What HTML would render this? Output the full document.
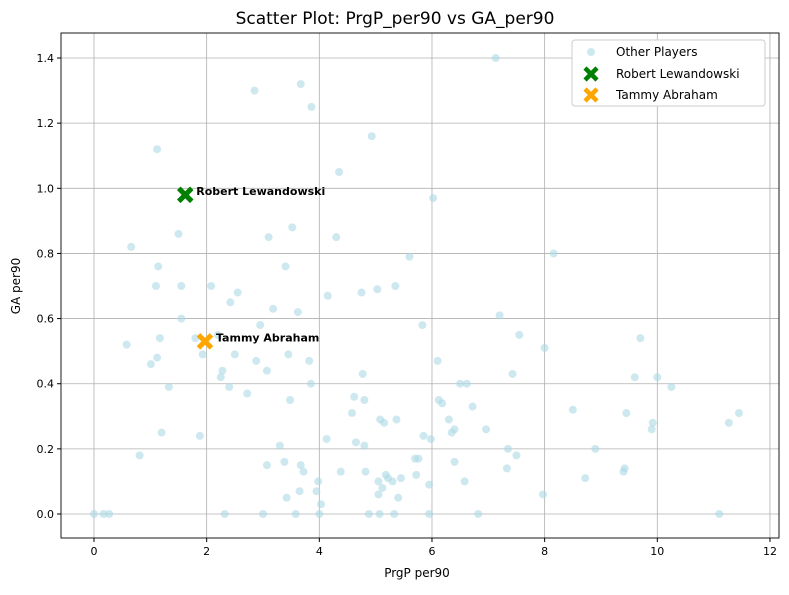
<!DOCTYPE html>
<html><head><meta charset="utf-8"><style>
body{margin:0;background:#fff;font-family:"Liberation Sans","DejaVu Sans",sans-serif}
svg text{font-family:"DejaVu Sans","Liberation Sans",sans-serif}
</style></head><body>
<svg id="chart" width="789" height="590">
<text x="395" y="24" text-anchor="middle" font-size="17">Scatter Plot: PrgP_per90 vs GA_per90</text>
<g id="grid"></g><g id="pts"></g><g id="axes"></g>
<text x="417" y="577" text-anchor="middle" font-size="12">PrgP per90</text>
<text transform="translate(20,286) rotate(-90)" text-anchor="middle" font-size="12">GA per90</text>
<g>
<rect x="572" y="40" width="193" height="66" fill="#fff" stroke="#ccc" rx="3"/>
<circle cx="591" cy="52" r="4" fill="#add8e6" opacity="0.6"/>
<text x="616" y="56" font-size="12">Other Players</text>
<path d="M585,68 L597,80 M597,68 L585,80" stroke="green" stroke-width="4.5"/>
<text x="616" y="78" font-size="12">Robert Lewandowski</text>
<path d="M585,89 L597,101 M597,89 L585,101" stroke="orange" stroke-width="4.5"/>
<text x="616" y="99" font-size="12">Tammy Abraham</text>
</g>
</svg>
<script>
const xs=[0,0.17,0.27,0.58,0.66,0.81,1.01,1.1,1.12,1.12,1.14,1.17,1.2,1.33,1.5,1.55,1.55,1.8,1.88,1.93,2.08,2.2,2.25,2.28,2.32,2.4,2.42,2.5,2.55,2.72,2.85,2.88,2.95,3.0,3.07,3.07,3.1,3.18,3.3,3.38,3.4,3.42,3.45,3.48,3.52,3.58,3.62,3.65,3.67,3.67,3.72,3.82,3.85,3.86,3.95,3.98,4.0,4.03,4.13,4.15,4.3,4.35,4.38,4.58,4.62,4.65,4.75,4.77,4.8,4.8,4.82,4.88,4.93,5.03,5.05,5.05,5.07,5.08,5.12,5.15,5.18,5.22,5.3,5.33,5.35,5.37,5.4,5.45,5.6,5.7,5.72,5.76,5.83,5.85,5.95,5.95,5.98,6.02,6.1,6.12,6.18,6.3,6.35,6.4,6.4,6.5,6.58,6.62,6.72,6.82,6.96,7.13,7.2,7.33,7.35,7.43,7.5,7.55,7.97,8.0,8.16,8.5,8.72,8.9,9.4,9.42,9.45,9.6,9.7,9.9,9.92,10.0,10.25,11.1,11.27,11.45];
const ys=[0,0,0,0.52,0.82,0.18,0.46,0.7,0.48,1.12,0.76,0.54,0.25,0.39,0.86,0.6,0.7,0.54,0.24,0.49,0.7,0.55,0.42,0.44,0,0.39,0.65,0.49,0.68,0.37,1.3,0.47,0.58,0,0.44,0.15,0.85,0.63,0.21,0.16,0.76,0.05,0.49,0.35,0.88,0,0.62,0.07,0.15,1.32,0.13,0.47,0.4,1.25,0.07,0.1,0,0.03,0.23,0.67,0.85,1.05,0.13,0.31,0.36,0.22,0.68,0.43,0.35,0.21,0.13,0,1.16,0.69,0.1,0.06,0,0.29,0.08,0.28,0.12,0.11,0.1,0,0.7,0.29,0.05,0.11,0.79,0.17,0.12,0.17,0.58,0.24,0.09,0,0.23,0.97,0.47,0.35,0.34,0.29,0.25,0.26,0.16,0.4,0.1,0.4,0.33,0,0.26,1.4,0.61,0.14,0.2,0.43,0.18,0.55,0.06,0.51,0.8,0.32,0.11,0.2,0.13,0.14,0.31,0.42,0.54,0.26,0.28,0.42,0.39,0,0.28,0.31];
const hlNames=["Robert Lewandowski","Tammy Abraham"];
const hlX=[1.62,1.97];
const hlY=[0.98,0.53];
const hlColors=["green","orange"];
const xTicks=[0,2,4,6,8,10,12];
const yTicks=[0,0.2,0.4,0.6,0.8,1.0,1.2,1.4];
const L=61,R=779,T=33,B=538;
const X=v=>94+v*56.33, Y=v=>514-v*325.7;
const NS="http://www.w3.org/2000/svg";
function mk(tag,attrs,parent,txt){const e=document.createElementNS(NS,tag);for(const k in attrs)e.setAttribute(k,attrs[k]);if(txt!==undefined)e.textContent=txt;parent.appendChild(e);return e;}
const grid=document.getElementById('grid'),axes=document.getElementById('axes'),pts=document.getElementById('pts');
xTicks.forEach(t=>{const x=X(t);
 const g=mk('line',{x1:x,x2:x,y1:T,y2:B,stroke:'#b0b0b0','stroke-width':0.8},grid);
 
 
 mk('line',{x1:x,x2:x,y1:B,y2:B+4,stroke:'#000'},axes);
 const l=mk('text',{x:x,y:B+17,'text-anchor':'middle','font-size':11},axes,String(t));
 
 });
yTicks.forEach(t=>{const y=Y(t);
 const g=mk('line',{x1:L,x2:R,y1:y,y2:y,stroke:'#b0b0b0','stroke-width':0.8},grid);
 
 
 mk('line',{x1:L-4,x2:L,y1:y,y2:y,stroke:'#000'},axes);
 const l=mk('text',{x:L-7,y:y+4,'text-anchor':'end','font-size':11},axes,t.toFixed(1));
 
 });
mk('rect',{x:L,y:T,width:R-L,height:B-T,fill:'none',stroke:'#000','stroke-width':0.9},axes);
xs.forEach((v,i)=>{const c=mk('circle',{cx:X(v),cy:Y(ys[i]),r:4,fill:'#add8e6','fill-opacity':0.6},pts);
 
 });
hlX.forEach((v,i)=>{const x=X(v),y=Y(hlY[i]);
 const m=mk('path',{d:`M${x-6.5},${y-6.5} L${x+6.5},${y+6.5} M${x+6.5},${y-6.5} L${x-6.5},${y+6.5}`,stroke:hlColors[i],'stroke-width':5},pts);
 
 
 const l=mk('text',{x:x+11,y:y,'font-size':11,'font-weight':'bold'},pts,hlNames[i]);
 
 });
</script>
</body></html>
